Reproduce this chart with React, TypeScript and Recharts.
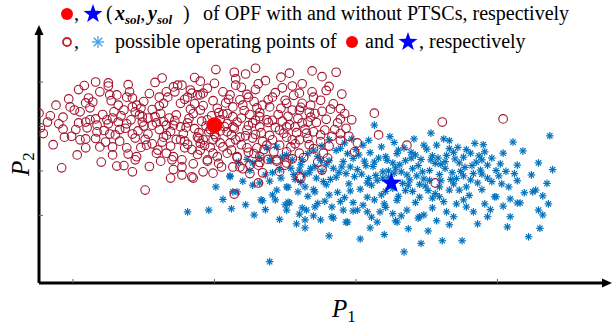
import React from "react";
import { ScatterChart, Scatter, XAxis, YAxis } from "recharts";

// P1 / P2 in arbitrary units (no tick labels in the source figure)
const X_TICKS = [0, 10, 20, 30];
const Y_TICKS = [0, 10, 20, 30];
const X_DOMAIN: [number, number] = [-2.4, 37.6];
const Y_DOMAIN: [number, number] = [-15.2, 41.7];

// OPF solutions: with PTSCs (red dot) and without (blue star)
const solWith = [{ x: 10.0, y: 20.3 }];
const solWithout = [{ x: 22.5, y: 7.5 }];

// possible operating points with PTSCs (red circles)
const redPoints: [number, number][] = [
  [-2.4, 23.0], [-1.8, 21.0], [-2.3, 19.7], [-0.7, 22.1], [-0.2, 24.4], [0.1, 23.7], [-0.6, 17.6], [-0.1, 17.8],
  [-0.8, 10.7], [0.5, 23.3], [0.4, 20.8], [1.1, 26.4], [1.4, 25.5], [1.6, 30.0], [1.2, 21.5], [1.6, 21.7],
  [1.0, 19.7], [0.9, 17.2], [0.9, 15.2], [1.7, 18.8], [1.9, 15.4], [2.5, 29.8], [2.5, 29.1], [2.6, 27.1],
  [3.1, 27.1], [2.4, 21.5], [2.5, 20.6], [2.6, 18.3], [2.3, 16.5], [2.8, 15.4], [2.8, 13.6], [3.1, 11.1],
  [3.2, 21.0], [3.6, 23.7], [3.8, 26.6], [4.2, 26.4], [4.2, 24.4], [4.5, 24.8], [3.8, 15.2], [3.9, 13.8],
  [4.4, 12.5], [4.2, 18.3], [4.4, 17.4], [5.2, 15.8], [5.1, 5.7], [4.7, 22.6], [4.9, 21.0], [5.3, 21.9],
  [5.6, 20.3], [5.9, 20.8], [6.1, 26.6], [6.4, 25.2], [6.7, 26.6], [7.1, 28.9], [7.4, 29.3], [7.7, 29.3],
  [6.4, 17.6], [6.0, 14.7], [6.6, 14.0], [7.0, 12.5], [7.1, 13.2], [7.7, 12.5], [7.7, 10.9], [6.9, 8.4],
  [7.7, 9.1], [8.4, 8.7], [8.5, 8.4], [7.6, 17.0], [7.9, 15.2], [7.6, 25.2], [7.2, 27.8], [8.1, 26.6],
  [8.4, 27.5], [8.8, 27.1], [9.0, 27.1], [9.2, 27.5], [9.5, 12.5], [10.0, 29.7], [10.1, 32.8], [10.6, 27.8],
  [11.1, 27.1], [11.5, 29.3], [11.4, 32.2], [12.2, 31.8], [10.5, 10.9], [11.3, 10.9], [11.8, 10.9], [12.5, 11.3],
  [13.1, 11.3], [12.3, 15.2], [13.0, 15.2], [13.7, 15.8], [14.1, 26.6], [14.8, 28.7], [15.3, 32.0], [15.5, 29.1],
  [16.9, 32.5], [16.9, 27.8], [17.0, 26.6], [16.0, 27.5], [16.2, 25.2], [15.1, 25.2], [16.7, 23.2], [17.1, 22.9],
  [16.0, 23.7], [15.5, 23.7], [15.1, 19.9], [15.7, 19.9], [16.2, 20.8], [16.5, 18.5], [17.0, 18.8], [15.1, 17.6],
  [15.5, 17.0], [16.0, 17.0], [14.1, 17.0], [14.6, 19.2], [13.7, 21.5], [13.2, 19.9], [12.7, 20.8], [12.3, 19.2],
  [11.8, 17.6], [12.7, 17.4], [13.4, 24.8], [13.9, 24.4], [13.0, 24.2], [12.4, 26.6], [11.8, 26.0], [11.3, 24.4],
  [10.9, 22.9], [10.4, 21.5], [9.5, 21.5], [9.0, 23.7], [8.5, 22.9], [8.1, 20.8], [7.6, 19.9], [7.1, 20.3],
  [6.6, 20.3], [8.8, 17.6], [9.2, 17.0], [9.9, 17.0], [10.4, 16.3], [11.1, 16.3], [11.3, 19.9], [10.9, 18.8],
  [9.0, 14.7], [9.9, 14.0], [10.9, 14.0], [11.6, 13.2], [13.2, 13.2], [14.4, 12.5], [15.1, 11.8], [16.0, 8.7],
  [18.9, 21.7], [19.7, 21.5], [21.3, 23.0], [26.1, 21.0], [30.4, 21.7], [21.6, 18.1], [20.1, 16.3], [19.9, 14.3],
  [23.6, 15.8], [25.6, 7.3], [17.3, 12.0], [18.0, 12.9], [16.1, 8.4], [13.1, 7.3], [11.4, 4.8], [9.2, 9.8],
  [9.5, 12.2], [12.0, 10.5], [12.5, 9.4], [13.4, 9.6], [14.4, 12.2], [15.0, 11.3], [15.5, 12.7], [16.0, 14.0],
  [17.0, 15.0], [17.7, 14.0], [15.1, 14.3],
  [8.6, 19.5], [9.1, 21.2], [9.6, 18.8], [10.4, 19.0], [10.9, 20.6], [11.4, 19.6], [8.2, 21.8], [9.8, 22.4],
  [10.6, 22.8], [11.9, 21.9], [12.4, 20.2], [12.9, 21.4], [7.8, 18.4], [8.9, 17.3], [10.1, 17.6], [11.2, 18.1],
  [12.2, 17.9], [13.3, 18.6], [13.8, 20.9], [14.3, 19.8], [14.8, 21.2], [15.3, 20.4], [15.9, 21.8], [16.4, 19.4],
  [17.2, 20.9], [17.8, 19.2], [16.8, 22.1], [14.5, 22.7], [13.2, 23.1], [12.1, 23.6], [10.2, 24.1], [9.2, 24.7],
  [8.3, 23.9], [7.3, 22.6], [6.8, 21.9], [6.2, 22.9], [5.6, 23.8], [4.9, 22.2], [4.1, 21.5], [3.4, 22.4],
  [2.9, 23.3], [2.1, 22.7], [1.7, 20.3], [2.2, 19.1], [3.0, 18.1], [3.7, 19.6], [4.6, 19.0], [5.3, 18.3],
  [6.1, 19.3], [6.9, 18.9], [7.3, 17.1], [6.3, 16.5], [5.1, 17.1], [8.1, 16.0], [9.3, 15.7], [10.6, 15.4],
  [11.9, 15.9], [13.4, 16.6], [14.6, 15.8], [15.7, 16.1], [16.6, 17.3], [17.5, 16.6], [18.3, 17.8], [18.7, 20.8],
  [19.2, 22.9], [18.2, 23.9], [16.1, 24.3], [15.0, 25.9], [13.8, 26.0], [12.8, 25.6], [11.0, 26.1], [9.9, 25.8],
  [7.9, 26.1], [6.1, 24.6], [5.0, 25.6], [4.0, 27.8], [3.2, 24.8], [6.6, 27.8], [9.5, 28.6], [12.9, 28.3],
  [13.6, 30.3], [16.2, 29.6], [17.6, 31.2], [18.4, 25.1], [19.0, 27.3], [18.6, 32.2], [8.8, 13.7], [10.2, 13.2],
  [11.6, 13.0], [12.8, 13.9], [13.8, 12.6], [14.2, 14.3], [5.9, 14.0], [4.5, 13.2], [3.6, 11.2], [2.0, 12.0],
  [0.3, 13.6], [-1.4, 15.9], [-2.1, 18.4], [-0.7, 19.4], [0.9, 21.0], [1.2, 24.2], [-0.3, 26.2], [0.4, 28.3],
  [5.8, 29.9], [8.6, 31.0], [12.9, 33.1], [18.1, 29.0], [19.3, 19.6], [18.9, 18.4],
  [9.4, 20.1], [10.7, 20.0], [8.9, 18.6], [11.6, 21.0], [10.3, 23.1], [9.7, 19.3], [8.0, 19.8], [7.2, 21.3],
  [6.4, 21.1], [5.8, 22.2], [4.4, 23.3], [3.8, 20.6], [3.3, 19.3], [2.8, 21.9], [5.0, 20.1], [6.6, 18.0],
  [7.9, 16.7], [9.0, 16.2], [10.0, 18.2], [11.5, 17.0], [12.9, 18.2], [13.9, 18.0], [14.9, 18.5], [15.8, 18.6],
  [17.5, 18.1], [18.5, 19.3], [17.9, 21.6], [16.6, 21.0], [15.2, 22.3], [14.1, 21.4], [13.2, 22.2], [12.5, 22.7],
  [11.3, 22.2], [12.0, 24.8], [14.7, 24.1], [16.8, 24.8], [17.6, 23.4], [18.9, 24.0], [17.5, 25.9], [14.3, 27.6],
  [11.9, 28.8], [8.3, 28.2], [5.4, 27.4], [4.8, 24.1], [2.7, 25.8], [1.9, 27.8], [0.9, 25.3], [-1.2, 24.8],
  [-1.6, 22.4], [-1.0, 20.6], [0.2, 19.3], [0.5, 17.0], [1.6, 17.3], [3.3, 16.7], [4.8, 15.3], [5.6, 16.1],
  [6.9, 15.6], [8.4, 14.8], [9.7, 15.3], [11.2, 14.7], [12.4, 14.2], [13.5, 14.8], [15.4, 15.4], [16.7, 15.9],
  [18.1, 15.6], [18.9, 16.9], [19.5, 17.8], [16.3, 13.0], [13.2, 11.9], [10.3, 11.7], [8.5, 11.6], [6.2, 12.2],
  [5.4, 11.0], [4.2, 9.8], [7.1, 10.3], [9.9, 9.5], [14.6, 9.9], [17.6, 10.2], [8.6, 25.1], [10.8, 25.3],
  [12.3, 27.2], [15.6, 27.0], [17.9, 28.1], [13.1, 29.6], [9.0, 30.2], [6.3, 30.9], [3.9, 29.4], [0.8, 29.2],
  [14.7, 31.1], [11.5, 30.7],
];

// possible operating points without PTSCs (blue asterisks)
const bluePoints: [number, number][] = [
  [18.1, 17.0], [21.3, 20.3], [25.3, 18.5], [22.7, 16.4], [24.1, 17.2], [26.6, 16.8], [29.0, 15.9],
  [20.5, 15.8], [19.2, 16.3], [23.4, 15.2], [28.4, 16.2], [31.1, 16.5], [33.7, 17.9],
  [17.3, 13.3], [18.6, 14.6], [19.8, 12.8], [21.0, 14.1], [22.1, 13.2], [23.0, 14.7], [24.2, 13.6], [25.0, 14.9],
  [25.8, 12.9], [26.9, 14.2], [27.6, 13.1], [28.1, 14.0], [29.1, 14.3], [30.4, 14.0], [31.8, 14.5], [16.2, 12.5],
  [15.1, 13.6], [14.0, 12.3], [13.2, 13.0], [12.3, 12.6], [11.7, 12.0], [20.6, 12.2], [23.5, 12.3], [26.3, 12.1],
  [28.9, 12.5], [16.8, 10.6], [17.9, 11.4], [18.8, 9.7], [19.6, 10.9], [20.4, 9.3], [21.2, 11.0], [21.9, 9.8],
  [22.8, 10.7], [23.6, 9.1], [24.4, 11.2], [25.2, 10.1], [26.0, 11.5], [26.8, 9.6], [27.7, 10.8], [28.8, 10.2],
  [29.3, 11.3], [29.3, 8.4], [30.6, 9.9], [31.4, 11.3], [32.9, 11.8], [15.6, 9.2], [14.6, 10.3], [13.6, 9.1],
  [12.5, 10.1], [11.1, 8.9], [17.2, 8.4], [22.3, 8.6], [24.8, 8.2], [27.1, 8.3], [30.1, 8.9], [15.2, 6.3],
  [16.1, 7.4], [17.0, 5.8], [17.9, 6.9], [18.7, 5.2], [19.5, 7.1], [20.3, 5.9], [21.1, 6.8], [21.8, 4.6],
  [22.6, 6.1], [23.3, 7.2], [24.0, 5.4], [24.9, 6.6], [25.6, 4.9], [26.6, 5.7], [27.3, 5.7], [27.8, 6.4],
  [28.6, 7.3], [28.1, 8.0], [29.9, 4.2], [30.3, 7.1], [31.4, 7.8], [32.5, 5.3], [31.9, 5.1], [32.7, 5.7],
  [29.8, 4.2], [14.1, 4.6], [14.3, 3.5], [13.3, 3.5], [11.6, 5.3], [12.7, 6.8], [13.9, 7.7], [20.8, 4.1],
  [23.0, 4.3], [26.0, 7.8], [19.2, 4.0], [15.0, 2.4], [15.2, 3.0], [16.2, 1.7], [16.5, 1.2], [17.1, 1.9],
  [18.3, 1.9], [19.1, 1.2], [20.1, 1.2], [20.8, 0.8], [21.7, 0.8], [23.6, 1.2], [25.4, 3.9], [25.9, 4.2],
  [27.6, 3.5], [26.4, 0.8], [25.4, 1.7], [30.9, 3.7], [31.4, 2.8], [29.1, 2.6], [28.3, 0.8], [31.6, 2.8],
  [15.3, 2.8], [15.1, 1.2], [13.4, 3.3], [12.8, 0.1], [11.2, 1.5], [8.1, 0.8], [17.8, 3.2], [19.8, 2.9],
  [22.0, 2.6], [24.2, 2.9], [22.6, 0.4], [24.8, 0.1], [15.8, -1.9], [16.4, -2.8], [17.5, -1.0], [18.3, -0.3],
  [19.3, -1.5], [21.5, -1.5], [22.8, -1.2], [24.5, -0.3], [26.9, -0.3], [29.3, -0.3], [30.9, -0.3], [30.7, -2.6],
  [32.2, -4.8], [32.9, 1.2], [25.1, -3.5], [26.1, -5.7], [27.5, -5.7], [20.3, -5.3], [23.4, -8.2], [13.9, -10.4],
  [16.4, -1.0], [18.4, -0.6], [19.4, -1.5], [22.9, -1.5], [24.4, -0.6], [21.0, -2.8], [23.7, -3.0],
  [21.5, 7.9], [23.8, 8.0], [22.1, 5.4], [20.9, 8.3], [24.5, 7.0], [23.2, 9.8], [21.4, 9.0], [19.9, 8.7],
  [18.2, 8.1], [17.6, 9.9], [25.9, 9.2], [26.7, 8.1], [27.3, 11.8], [25.4, 13.4], [22.6, 11.8], [21.6, 12.9],
  [19.4, 13.9], [18.1, 12.3], [24.8, 15.8], [27.2, 15.3], [28.5, 12.0], [20.0, 14.8], [22.4, 17.7], [26.2, 17.2],
  [11.1, 8.7], [12.7, 11.8], [13.7, 15.2], [14.4, 15.4], [13.9, 12.5], [14.8, 13.1], [15.5, 12.5], [16.0, 10.2],
  [16.7, 9.6], [17.0, 14.7], [14.1, 9.6], [14.4, 5.7], [15.1, 6.4], [16.4, 6.4], [17.1, 5.3], [11.3, 5.3],
  [13.2, 7.3],
  [17.6, 15.6], [18.9, 15.1], [19.7, 17.2], [20.9, 16.9], [21.8, 15.4], [22.9, 13.9], [23.9, 14.2], [24.6, 12.6],
  [25.7, 15.8], [26.4, 13.5], [27.0, 12.7], [27.8, 14.8], [28.7, 13.4], [29.6, 12.9], [30.2, 11.6], [29.9, 10.1],
  [28.3, 9.4], [27.4, 9.9], [26.3, 10.6], [25.6, 11.7], [24.7, 9.8], [24.0, 10.5], [23.1, 11.4], [22.2, 12.4],
  [21.3, 12.0], [20.2, 13.6], [19.1, 12.1], [18.4, 10.6], [17.5, 12.4], [16.6, 13.9], [16.1, 11.4], [15.4, 10.6],
  [17.7, 7.6], [18.6, 8.6], [19.3, 9.4], [20.1, 10.3], [20.8, 7.3], [21.9, 8.4], [22.7, 9.5], [23.7, 6.8],
  [24.3, 8.9], [25.2, 7.9], [25.9, 6.4], [26.9, 7.1], [27.6, 8.9], [28.9, 9.3], [29.6, 7.6], [30.8, 6.4],
  [31.2, 9.4], [32.4, 9.1], [33.5, 7.2], [33.2, 4.4], [30.4, 2.1], [28.9, 5.8], [28.0, 4.5],
  [27.1, 2.6], [26.2, 3.1], [25.1, 5.6], [24.5, 4.1], [23.5, 5.6], [22.9, 3.4], [22.1, 1.8], [21.3, 3.5],
  [20.5, 2.3], [19.6, 5.5], [18.9, 3.1], [18.1, 4.6], [17.3, 2.7], [16.6, 4.3], [15.9, 5.3], [15.7, 8.1],
  [16.4, 9.3], [17.1, 10.9], [19.0, 10.9], [20.7, 11.2], [22.3, 10.0], [23.9, 12.9], [25.3, 12.5], [26.6, 15.0],
  [28.2, 11.2], [19.8, 1.0], [21.1, -0.4], [23.2, -0.1], [25.7, -1.2],
  [27.8, 1.9], [29.5, 1.3], [17.0, -0.1], [16.0, 0.3], [14.6, -0.9], [12.2, 2.4], [10.6, 3.6], [9.6, 1.2],
  [13.6, 1.3], [14.7, 8.4], [12.0, 7.7], [10.1, 6.4], [33.9, 10.3], [33.6, 2.6], [33.2, 0.1], [33.0, -2.9],
  [28.6, -1.9], [24.6, -6.3], [18.1, -4.6], [26.6, -2.1], [22.0, -4.3],
];

const redData = redPoints.map(([x, y]) => ({ x, y }));
const blueData = bluePoints.map(([x, y]) => ({ x, y }));

const RED_EDGE = "#A2142F";
const BLUE = "#0072BD";
const FONT = "'Liberation Serif', 'Times New Roman', serif";

function starPath(cx: number, cy: number, R: number) {
  const r = R * 0.4;
  let d = "";
  for (let i = 0; i < 10; i++) {
    const a = -Math.PI / 2 + (i * Math.PI) / 5;
    const rad = i % 2 === 0 ? R : r;
    d += (i === 0 ? "M" : "L") + (cx + rad * Math.cos(a)).toFixed(2) + "," + (cy + rad * Math.sin(a)).toFixed(2);
  }
  return d + "Z";
}

function Asterisk({ cx, cy, s, color }: { cx: number; cy: number; s: number; color: string }) {
  const d = s * 0.707;
  return (
    <g stroke={color} strokeWidth={1.2}>
      <line x1={cx - s} y1={cy} x2={cx + s} y2={cy} />
      <line x1={cx} y1={cy - s} x2={cx} y2={cy + s} />
      <line x1={cx - d} y1={cy - d} x2={cx + d} y2={cy + d} />
      <line x1={cx - d} y1={cy + d} x2={cx + d} y2={cy - d} />
    </g>
  );
}

const circleShape = (p: any) => (
  <circle cx={p.cx} cy={p.cy} r={4.3} fill="none" stroke={RED_EDGE} strokeWidth={1.1} />
);
const asteriskShape = (p: any) => <Asterisk cx={p.cx} cy={p.cy} s={3.8} color={BLUE} />;
const dotShape = (p: any) => <circle cx={p.cx} cy={p.cy} r={8} fill="#FF0000" />;
const starShape = (p: any) => <path d={starPath(p.cx, p.cy + 1, 11)} fill="#0000FF" />;
const noTick = () => <g />;

function Overlay() {
  const sub = { fontWeight: "bold" as const, fontStyle: "italic" as const, fontSize: 13 };
  const it = { fontWeight: "bold" as const, fontStyle: "italic" as const };
  return (
    <svg width={612} height={326} style={{ position: "absolute", left: 0, top: 0, pointerEvents: "none" }}>
      {/* axis arrowheads */}
      <path d="M39,25 L34.5,35 L43.5,35 Z" fill="#000" />
      <path d="M612,283 L602,278.5 L602,287.5 Z" fill="#000" />
      <g fontFamily={FONT} fontSize={20} fill="#000">
        {/* line 1 */}
        <circle cx={67} cy={14} r={6} fill="#FF0000" />
        <text x={74} y={20}>,</text>
        <path d={starPath(93, 14, 10)} fill="#0000FF" />
        <text y={20}>
          <tspan x={106}>(</tspan>
          <tspan x={115} {...it}>x</tspan>
          <tspan {...sub} dy={4}>sol</tspan>
          <tspan dy={-4}>,</tspan>
          <tspan x={148} {...it}>y</tspan>
          <tspan {...sub} dy={4}>sol</tspan>
          <tspan x={183} dy={-4}>)</tspan>
        </text>
        <text x={203} y={20}>of OPF with and without PTSCs, respectively</text>
        {/* line 2 */}
        <circle cx={67} cy={42} r={4} fill="none" stroke="#C81E2A" strokeWidth={1.8} />
        <text x={74} y={48}>,</text>
        <Asterisk cx={98} cy={42} s={6} color="#3C9BE0" />
        <text x={115} y={48}>possible operating points of</text>
        <circle cx={352} cy={42} r={6} fill="#FF0000" />
        <text x={365} y={48}>and</text>
        <path d={starPath(408, 42, 10)} fill="#0000FF" />
        <text x={419} y={48}>, respectively</text>
      </g>
      <text x={332} y={317} fontFamily={FONT} fontSize={25} fontStyle="italic">
        P<tspan fontStyle="normal" fontSize={17} dy={5}>1</tspan>
      </text>
      <text transform="translate(29,176) rotate(-90)" fontFamily={FONT} fontSize={25} fontStyle="italic">
        P<tspan fontStyle="normal" fontSize={17} dy={5}>2</tspan>
      </text>
    </svg>
  );
}

export default function App() {
  return (
    <div style={{ position: "absolute", left: 0, top: 0, width: 612, height: 326, background: "#fff" }}>
      <ScatterChart width={612} height={326} margin={{ top: 30, right: 7, bottom: 43, left: 39 }}>
        <XAxis
          type="number"
          dataKey="x"
          domain={X_DOMAIN}
          ticks={X_TICKS}
          allowDataOverflow
          mirror
          tick={noTick}
          tickSize={4}
          tickLine={{ stroke: "#666", strokeWidth: 1 }}
          axisLine={{ stroke: "#000", strokeWidth: 3 }}
        />
        <YAxis
          type="number"
          dataKey="y"
          domain={Y_DOMAIN}
          ticks={Y_TICKS}
          allowDataOverflow
          mirror
          tick={noTick}
          tickSize={4}
          tickLine={{ stroke: "#666", strokeWidth: 1 }}
          axisLine={{ stroke: "#000", strokeWidth: 3 }}
        />
        <Scatter data={blueData} shape={asteriskShape} isAnimationActive={false} />
        <Scatter data={redData} shape={circleShape} isAnimationActive={false} />
        <Scatter data={solWith} shape={dotShape} isAnimationActive={false} />
        <Scatter data={solWithout} shape={starShape} isAnimationActive={false} />
      </ScatterChart>
      <Overlay />
    </div>
  );
}
